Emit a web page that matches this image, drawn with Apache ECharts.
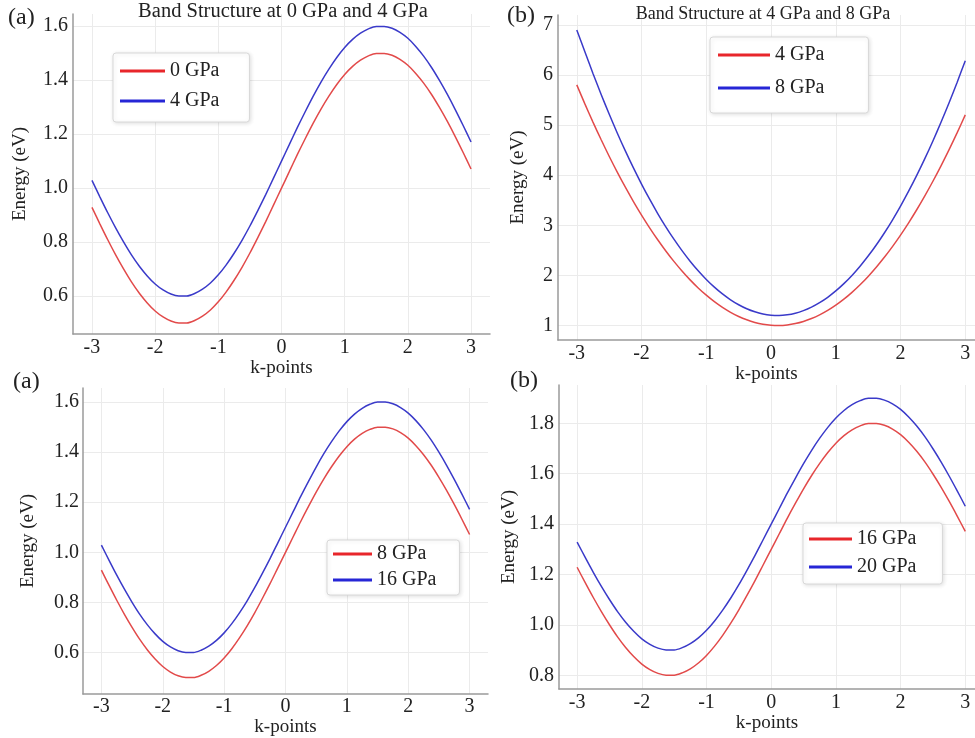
<!DOCTYPE html>
<html>
<head>
<meta charset="utf-8">
<script src="https://cdn.jsdelivr.net/npm/echarts@6/dist/echarts.min.js"></script>
<style>html,body{margin:0;padding:0;background:#fff;}#chart{width:975px;height:738px;}</style>
</head>
<body>
<div id="chart"></div>
<script>
// ---- data ----
const kPoints = [-3,-2.875,-2.75,-2.625,-2.5,-2.375,-2.25,-2.125,-2,-1.875,-1.75,-1.625,-1.5,-1.375,-1.25,-1.125,-1,-0.875,-0.75,-0.625,-0.5,-0.375,-0.25,-0.125,
  0,0.125,0.25,0.375,0.5,0.625,0.75,0.875,1,1.125,1.25,1.375,1.5,1.625,1.75,1.875,2,2.125,2.25,2.375,2.5,2.625,2.75,2.875,3];

const topLeft0GPa = [0.929,0.868,0.809,0.753,0.701,0.653,0.611,0.575,0.545,0.523,0.508,0.501,0.501,0.510,0.526,0.549,0.579,0.616,0.659,0.707,0.760,0.817,0.876,0.938,
  1.000,1.062,1.124,1.183,1.240,1.293,1.341,1.384,1.421,1.451,1.474,1.490,1.499,1.499,1.492,1.477,1.455,1.425,1.389,1.347,1.299,1.247,1.191,1.132,1.071];
const topLeft4GPa = [1.029,0.968,0.909,0.853,0.801,0.753,0.711,0.675,0.645,0.623,0.608,0.601,0.601,0.610,0.626,0.649,0.679,0.716,0.759,0.807,0.860,0.917,0.976,1.038,
  1.100,1.162,1.224,1.283,1.340,1.393,1.441,1.484,1.521,1.551,1.574,1.590,1.599,1.599,1.592,1.577,1.555,1.525,1.489,1.447,1.399,1.347,1.291,1.232,1.171];

const topRight4GPa = [5.805,5.425,5.061,4.713,4.380,4.063,3.761,3.475,3.205,2.950,2.711,2.488,2.280,2.088,1.911,1.750,1.605,1.475,1.361,1.263,1.180,1.113,1.061,1.025,
  1.005,1.000,1.011,1.038,1.080,1.138,1.211,1.300,1.405,1.525,1.661,1.813,1.980,2.163,2.361,2.575,2.805,3.050,3.311,3.588,3.880,4.188,4.511,4.850,5.205];
const topRight8GPa = [6.900,6.466,6.033,5.618,5.222,4.845,4.486,4.146,3.824,3.521,3.236,2.970,2.723,2.494,2.284,2.093,1.920,1.766,1.630,1.513,1.414,1.334,1.273,1.230,
  1.206,1.200,1.214,1.246,1.297,1.367,1.456,1.563,1.690,1.836,2.000,2.184,2.386,2.607,2.847,3.106,3.384,3.681,3.997,4.331,4.685,5.057,5.449,5.859,6.288];

const bottomLeft8GPa = [0.929,0.868,0.809,0.753,0.701,0.653,0.611,0.575,0.545,0.523,0.508,0.501,0.501,0.510,0.526,0.549,0.579,0.616,0.659,0.707,0.760,0.817,0.876,0.938,
  1.000,1.062,1.124,1.183,1.240,1.293,1.341,1.384,1.421,1.451,1.474,1.490,1.499,1.499,1.492,1.477,1.455,1.425,1.389,1.347,1.299,1.247,1.191,1.132,1.071];
const bottomLeft16GPa = [1.029,0.968,0.909,0.853,0.801,0.753,0.711,0.675,0.645,0.623,0.608,0.601,0.601,0.610,0.626,0.649,0.679,0.716,0.759,0.807,0.860,0.917,0.976,1.038,
  1.100,1.162,1.224,1.283,1.340,1.393,1.441,1.484,1.521,1.551,1.574,1.590,1.599,1.599,1.592,1.577,1.555,1.525,1.489,1.447,1.399,1.347,1.291,1.232,1.171];

const bottomRight16GPa = [1.229,1.168,1.109,1.053,1.001,0.953,0.911,0.875,0.845,0.823,0.808,0.801,0.801,0.810,0.826,0.849,0.879,0.916,0.959,1.007,1.060,1.117,1.176,1.238,
  1.300,1.362,1.424,1.483,1.540,1.593,1.641,1.684,1.721,1.751,1.774,1.790,1.799,1.799,1.792,1.777,1.755,1.725,1.689,1.647,1.599,1.547,1.491,1.432,1.371];
const bottomRight20GPa = [1.329,1.268,1.209,1.153,1.101,1.053,1.011,0.975,0.945,0.923,0.908,0.901,0.901,0.910,0.926,0.949,0.979,1.016,1.059,1.107,1.160,1.217,1.276,1.338,
  1.400,1.462,1.524,1.583,1.640,1.693,1.741,1.784,1.821,1.851,1.874,1.890,1.899,1.899,1.892,1.877,1.855,1.825,1.789,1.747,1.699,1.647,1.591,1.532,1.471];

const titles = ['Band Structure at 0 GPa and 4 GPa', 'Band Structure at 4 GPa and 8 GPa'];
const panelLetters = ['(a)', '(b)', '(a)', '(b)'];
const legendLabels = [['0 GPa','4 GPa'], ['4 GPa','8 GPa'], ['8 GPa','16 GPa'], ['16 GPa','20 GPa']];
const xName = 'k-points';
const yName = 'Energy (eV)';

// ---- styling / layout ----
const SERIF = '"Liberation Serif", "Times New Roman", serif';
const RED = '#e24a4a';
const BLUE = '#3a3ac9';
const LEG_RED = '#e8262b';
const LEG_BLUE = '#2626d6';
const TXT = '#222';

const panels = [
  { grid:{left:73, top:14, width:417, height:320}, x:[-3.3,3.3], y:[0.46,1.645], dec:1,
    xMargin:4, yMargin:5, xGap:16, yGap:43, series:[topLeft0GPa, topLeft4GPa],
    legend:{left:113, top:53, itemWidth:45, itemGap:10, padding:[8,30,11,7]} },
  { grid:{left:558, top:15, width:417, height:325}, x:[-3.29,3.15], y:[0.71,7.2], dec:0,
    xMargin:4, yMargin:5, xGap:18, yGap:30, series:[topRight4GPa, topRight8GPa],
    legend:{left:710, top:37, itemWidth:52, itemGap:13, padding:[8,44,15,8]} },
  { grid:{left:83, top:388, width:405, height:309}, x:[-3.3,3.3], y:[0.435,1.655], dec:1,
    xMargin:3, yMargin:4, xGap:18, yGap:45, series:[bottomLeft8GPa, bottomLeft16GPa],
    legend:{left:327, top:540, itemWidth:39, itemGap:6, padding:[4,23,5,6]} },
  { grid:{left:559, top:385, width:416, height:304}, x:[-3.28,3.15], y:[0.746,1.952], dec:1,
    xMargin:4, yMargin:5, xGap:19, yGap:40, series:[bottomRight16GPa, bottomRight20GPa],
    legend:{left:803, top:523, itemWidth:43, itemGap:8, padding:[6,26,7,6]} }
];

const grid = [], xAxis = [], yAxis = [], series = [], legend = [];
const nameMap = {};
const splitLineStyle = {show:true, showMinLine:false, showMaxLine:false, lineStyle:{color:'#ebebeb', width:1}};
panels.forEach((p, i) => {
  grid.push(Object.assign({containLabel:false}, p.grid));
  xAxis.push({
    type:'value', gridIndex:i, min:p.x[0], max:p.x[1], splitNumber:6,
    name:xName, nameLocation:'middle', nameGap:p.xGap,
    nameTextStyle:{fontFamily:SERIF, fontSize:19, color:TXT},
    axisLine:{show:true, onZero:false, lineStyle:{color:'#9a9a9a', width:1.5}},
    axisTick:{show:false},
    axisLabel:{showMinLabel:false, showMaxLabel:false, margin:p.xMargin, fontFamily:SERIF, fontSize:20, color:TXT,
      formatter:v => String(Math.round(v))},
    splitLine:splitLineStyle
  });
  yAxis.push({
    type:'value', gridIndex:i, min:p.y[0], max:p.y[1], splitNumber:6,
    name:yName, nameLocation:'middle', nameGap:p.yGap,
    nameTextStyle:{fontFamily:SERIF, fontSize:19, color:TXT},
    axisLine:{show:true, onZero:false, lineStyle:{color:'#9a9a9a', width:1.5}},
    axisTick:{show:false},
    axisLabel:{showMinLabel:false, showMaxLabel:false, margin:p.yMargin, fontFamily:SERIF, fontSize:20, color:TXT,
      formatter:v => v.toFixed(p.dec)},
    splitLine:splitLineStyle
  });
  const names = [];
  p.series.forEach((arr, j) => {
    const id = 'p' + i + 's' + j;
    nameMap[id] = legendLabels[i][j];
    names.push({name:id, itemStyle:{color: j === 0 ? LEG_RED : LEG_BLUE}});
    series.push({
      name:id, type:'line', xAxisIndex:i, yAxisIndex:i,
      data:kPoints.map((k, n) => [k, arr[n]]),
      smooth:0.3, showSymbol:false, symbol:'none',
      lineStyle:{width:1.5, color: j === 0 ? RED : BLUE},
      itemStyle:{color: j === 0 ? RED : BLUE},
      animation:false
    });
  });
  legend.push({
    data:names, orient:'vertical', left:p.legend.left, top:p.legend.top,
    icon:'rect', itemWidth:p.legend.itemWidth, itemHeight:3, itemGap:p.legend.itemGap,
    padding:p.legend.padding, backgroundColor:'#fff', borderColor:'#d8d8d8', borderWidth:1, borderRadius:3,
    shadowBlur:4, shadowColor:'rgba(0,0,0,0.12)', shadowOffsetX:1, shadowOffsetY:1,
    textStyle:{fontFamily:SERIF, fontSize:20, color:TXT},
    formatter:name => nameMap[name],
    selectedMode:false
  });
});

const graphic = [
  {type:'text', x:283, y:12, z:100, style:{text:titles[0], fontFamily:SERIF, fontSize:20.5, fill:TXT, align:'center', verticalAlign:'middle'}},
  {type:'text', x:763, y:14, z:100, style:{text:titles[1], fontFamily:SERIF, fontSize:18, fill:TXT, align:'center', verticalAlign:'middle'}},
  {type:'text', x:8,   y:18, style:{text:panelLetters[0], fontFamily:SERIF, fontSize:24, fill:TXT, align:'left', verticalAlign:'middle'}},
  {type:'text', x:507, y:16, style:{text:panelLetters[1], fontFamily:SERIF, fontSize:24, fill:TXT, align:'left', verticalAlign:'middle'}},
  {type:'text', x:13,  y:382, style:{text:panelLetters[2], fontFamily:SERIF, fontSize:24, fill:TXT, align:'left', verticalAlign:'middle'}},
  {type:'text', x:510, y:381, style:{text:panelLetters[3], fontFamily:SERIF, fontSize:24, fill:TXT, align:'left', verticalAlign:'middle'}}
];

const chart = echarts.init(document.getElementById('chart'), null, {renderer:'canvas'});
chart.setOption({
  animation:false,
  backgroundColor:'#fff',
  grid, xAxis, yAxis, series, legend, graphic
});
</script>
</body>
</html>
